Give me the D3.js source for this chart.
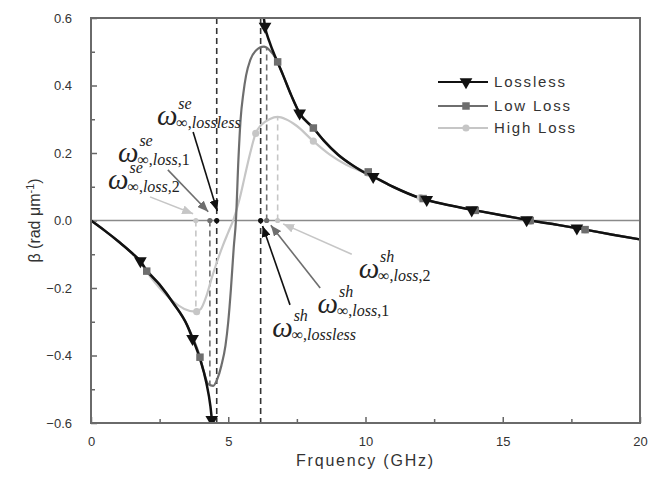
<!DOCTYPE html>
<html>
<head>
<meta charset="utf-8">
<title>Propagation constant vs frequency</title>
<script src="https://cdn.jsdelivr.net/npm/d3@7"></script>
<style>
  body { margin: 0; background: #fff; }
  svg { display: block; }
  .tick text { font-family: "Liberation Sans", Arial, sans-serif; font-size: 13px; fill: #333; }
</style>
</head>
<body>
<div id="chart"></div>
<script>
// ---- data ----
var losslessLow = [[0,0],[0.5,-0.03],[1,-0.062],[1.5,-0.097],[1.8,-0.12],[2,-0.145],[2.5,-0.19],[3,-0.245],
  [3.5,-0.31],[3.7,-0.35],[3.97,-0.41],[4.2,-0.48],[4.35,-0.55],[4.45,-0.63]];
var losslessHigh = [[6.25,0.63],[6.34,0.575],[6.5,0.53],[6.76,0.476],[7,0.43],[7.3,0.37],[7.6,0.318],[8.1,0.274],
  [8.5,0.235],[9,0.195],[9.5,0.165],[10,0.14],[10.28,0.13],[11,0.1],[12,0.066],[13,0.046],[14,0.03],[15,0.015],
  [16,0],[17,-0.013],[18,-0.027],[19,-0.042],[20,-0.056]];
var lowLoss = [[0,0],[0.5,-0.03],[1,-0.062],[1.5,-0.097],[2,-0.145],[2.5,-0.19],[3,-0.245],[3.5,-0.31],
  [3.75,-0.355],[3.97,-0.405],[4.1,-0.445],[4.27,-0.485],[4.45,-0.49],[4.6,-0.47],[4.75,-0.43],[4.9,-0.37],
  [5,-0.3],[5.1,-0.2],[5.2,-0.08],[5.28,0],[5.37,0.18],[5.45,0.3],[5.55,0.377],[5.65,0.43],[5.8,0.475],
  [6,0.503],[6.3,0.515],[6.5,0.505],[6.76,0.476],[7,0.43],[7.3,0.37],[7.6,0.318],[8.1,0.274],[8.5,0.235],
  [9,0.195],[9.5,0.165],[10,0.142],[11,0.1],[12,0.066],[13,0.046],[14,0.03],[15,0.015],[16,0],[17,-0.013],
  [18,-0.027],[19,-0.042],[20,-0.056]];
var highLoss = [[0,0],[0.5,-0.03],[1,-0.062],[1.5,-0.097],[1.8,-0.12],[2.1,-0.16],[2.5,-0.2],[3,-0.24],
  [3.4,-0.262],[3.8,-0.27],[4,-0.262],[4.2,-0.225],[4.4,-0.17],[4.6,-0.12],[4.8,-0.075],[5,-0.035],[5.2,0.005],
  [5.4,0.06],[5.6,0.13],[5.8,0.2],[6,0.258],[6.2,0.283],[6.5,0.3],[6.8,0.307],[7.1,0.3],[7.5,0.28],[8.1,0.235],
  [8.7,0.195],[9.3,0.165],[10,0.14],[10.5,0.12],[11,0.1],[12,0.066],[13,0.046],[14,0.03],[15,0.015],[16,0],
  [17,-0.013],[18,-0.027],[19,-0.042],[20,-0.056]];

var losslessMarks = [[1.8,-0.12],[3.7,-0.35],[4.4,-0.59],[6.34,0.575],[7.6,0.318],[10.28,0.13],[12.23,0.062],
  [13.87,0.031],[15.87,0.002],[17.7,-0.023]];
var lowLossMarks = [[2.03,-0.15],[3.97,-0.405],[6.8,0.47],[8.1,0.274],[10.1,0.144],[12.1,0.065],[14,0.03],
  [16,0],[18,-0.027]];
var highLossMarks = [[3.85,-0.27],[6,0.258],[8.1,0.235],[10.1,0.14],[12,0.068],[14,0.03],[16,-0.003],[18,-0.028]];

// resonance frequencies: [f, beta at the curve extreme, colour key]
var resonances = [[4.58,null,"k"],[6.18,null,"k"],[4.33,-0.49,"m"],[6.4,0.515,"m"],[3.82,-0.27,"l"],[6.8,0.307,"l"]];

// annotations: omega left/baseline, sup, sub (text + upright tail), arrow from, arrow to (data units)
var labels = [
  {at:[2.4,0.283], sup:"se", sub:"lossless", tail:"", from:[3.72,0.262], to:[4.6,0.028], c:"k"},
  {at:[0.98,0.173], sup:"se", sub:"loss", tail:",1", from:[2.8,0.15], to:[4.27,0.026], c:"m"},
  {at:[0.62,0.093], sup:"se", sub:"loss", tail:",2", from:[2.15,0.07], to:[3.72,0.02], c:"l"},
  {at:[9.75,-0.17], sup:"sh", sub:"loss", tail:",2", from:[9.5,-0.1], to:[7.0,-0.01], c:"l"},
  {at:[8.25,-0.275], sup:"sh", sub:"loss", tail:",1", from:[8.35,-0.2], to:[6.55,-0.014], c:"m"},
  {at:[6.6,-0.345], sup:"sh", sub:"lossless", tail:"", from:[7.25,-0.25], to:[6.25,-0.016], c:"k"}
];

var xTicks = [0,5,10,15,20];
var yTicks = [-0.6,-0.4,-0.2,0,0.2,0.4,0.6];
var legendNames = ["Lossless","Low Loss","High Loss"];

// ---- setup ----
var width = 659, height = 481;
var colors = {k:"#111", m:"#6e6e6e", l:"#c6c6c6"};
var pL = 91, pR = 640, pT = 18, pB = 423;
var serif = "'Liberation Serif','Times New Roman',serif";

var svg = d3.select("#chart").append("svg")
  .attr("width", width).attr("height", height);

var x = d3.scaleLinear().domain([0,20]).range([pL,pR]);
var y = d3.scaleLinear().domain([-0.6,0.6]).range([pB,pT]);

var defs = svg.append("defs");
defs.append("clipPath").attr("id","plot")
  .append("rect").attr("x",pL).attr("y",pT).attr("width",pR-pL).attr("height",pB-pT);
Object.keys(colors).forEach(function(k){
  defs.append("marker").attr("id","arr-"+k)
    .attr("markerUnits","userSpaceOnUse")
    .attr("markerWidth",12).attr("markerHeight",9)
    .attr("refX",11).attr("refY",4.5).attr("orient","auto")
    .append("path").attr("d","M0,0 L11,4.5 L0,9 Z").attr("fill",colors[k]);
});

// axes
var fmt = d3.format(".1f");
svg.append("g").attr("transform","translate("+pL+",0)")
  .call(d3.axisLeft(y).tickValues(yTicks).tickSize(-6).tickPadding(19).tickFormat(fmt));
svg.append("g").attr("transform","translate("+pL+",0)")
  .call(d3.axisLeft(y).tickValues(d3.range(-0.5,0.6,0.2)).tickSize(-4).tickFormat(""));
svg.append("g").attr("transform","translate(0,"+pB+")")
  .call(d3.axisBottom(x).tickValues(xTicks).tickSize(-6).tickPadding(14).tickFormat(d3.format("d")));
svg.append("g").attr("transform","translate(0,"+pB+")")
  .call(d3.axisBottom(x).tickValues([2.5,7.5,12.5,17.5]).tickSize(-4).tickFormat(""));
svg.selectAll(".domain").remove();
svg.selectAll(".tick line").attr("stroke","#666").attr("stroke-width",1.5);

// zero line
svg.append("line").attr("x1",pL).attr("x2",pR).attr("y1",y(0)).attr("y2",y(0))
  .attr("stroke","#8a8a8a").attr("stroke-width",1.5);

// dashed resonance lines
var plot = svg.append("g").attr("clip-path","url(#plot)");
resonances.forEach(function(r){
  var y1 = r[1] === null ? pT : y(0);
  var y2 = r[1] === null ? pB : y(r[1]);
  plot.append("line").attr("x1",x(r[0])).attr("x2",x(r[0])).attr("y1",y1).attr("y2",y2)
    .attr("stroke", r[2]==="k" ? "#333" : colors[r[2]])
    .attr("stroke-width",1.6).attr("stroke-dasharray","6,4");
});

// curves
var line = d3.line().x(function(d){return x(d[0]);}).y(function(d){return y(d[1]);}).curve(d3.curveMonotoneX);
plot.append("path").datum(highLoss).attr("d",line).attr("fill","none").attr("stroke",colors.l).attr("stroke-width",2.2);
plot.append("path").datum(lowLoss).attr("d",line).attr("fill","none").attr("stroke",colors.m).attr("stroke-width",2.2);
[losslessLow, losslessHigh].forEach(function(s){
  plot.append("path").datum(s).attr("d",line).attr("fill","none").attr("stroke",colors.k).attr("stroke-width",2.5);
});

// markers
var tri = d3.symbol().type(d3.symbolTriangle).size(70);
var sq = d3.symbol().type(d3.symbolSquare).size(56);
var circ = d3.symbol().type(d3.symbolCircle).size(40);
plot.selectAll(".hm").data(highLossMarks).enter().append("path")
  .attr("d",circ).attr("fill",colors.l)
  .attr("transform",function(d){return "translate("+x(d[0])+","+y(d[1])+")";});
plot.selectAll(".lm").data(lowLossMarks).enter().append("path")
  .attr("d",sq).attr("fill",colors.m)
  .attr("transform",function(d){return "translate("+x(d[0])+","+y(d[1])+")";});
plot.selectAll(".km").data(losslessMarks).enter().append("path")
  .attr("d",tri).attr("fill",colors.k)
  .attr("transform",function(d){return "translate("+x(d[0])+","+y(d[1])+") rotate(180)";});

// dots at zero crossings
resonances.forEach(function(r){
  svg.append("circle").attr("cx",x(r[0])).attr("cy",y(0)).attr("r",2.6)
    .attr("fill", r[2]==="k" ? "#111" : colors[r[2]]);
});

// frame
svg.append("rect").attr("x",pL).attr("y",pT).attr("width",pR-pL).attr("height",pB-pT)
  .attr("fill","none").attr("stroke","#6a6a6a").attr("stroke-width",2);

// annotations
labels.forEach(function(a){
  svg.append("line").attr("x1",x(a.from[0])).attr("y1",y(a.from[1]))
    .attr("x2",x(a.to[0])).attr("y2",y(a.to[1]))
    .attr("stroke",colors[a.c]).attr("stroke-width",1.6).attr("marker-end","url(#arr-"+a.c+")");
  var bx = x(a.at[0]), by = y(a.at[1]);
  var w = svg.append("text").attr("x",bx).attr("y",by)
    .attr("font-family",serif).attr("font-style","italic")
    .attr("font-size",29).attr("fill","#222").text("\u03C9");
  var ww = w.node().getComputedTextLength();
  svg.append("text").attr("x",bx+ww+1).attr("y",by-16)
    .attr("font-family",serif).attr("font-style","italic")
    .attr("font-size",16).attr("fill","#222").text(a.sup);
  var sub = svg.append("text").attr("x",bx+ww-1).attr("y",by+3)
    .attr("font-family",serif).attr("font-size",16).attr("fill","#222");
  sub.append("tspan").text("\u221E,");
  sub.append("tspan").attr("font-style","italic").text(a.sub);
  sub.append("tspan").text(a.tail);
});

// legend
var legY = [82,106,128];
var legSym = [tri, sq, circ];
var legCol = [colors.k, colors.m, colors.l];
legendNames.forEach(function(n,i){
  var g = svg.append("g").attr("transform","translate(438,"+legY[i]+")");
  g.append("line").attr("x1",0).attr("x2",50).attr("stroke",legCol[i]).attr("stroke-width",2.2);
  g.append("path").attr("d",legSym[i]).attr("fill",legCol[i])
    .attr("transform","translate(28,0)"+(i===0?" rotate(180)":""));
  g.append("text").attr("x",56).attr("dy","0.36em")
    .attr("font-family","'Liberation Sans',Arial,sans-serif").attr("font-size",15)
    .attr("letter-spacing","1.8px").attr("fill","#333").text(n);
});

// axis titles
svg.append("text").attr("x",(pL+pR)/2).attr("y",466).attr("text-anchor","middle")
  .attr("font-family","'Liberation Sans',Arial,sans-serif").attr("font-size",16)
  .attr("letter-spacing","1.8px").attr("fill","#333").text("Frquency (GHz)");
var yt = svg.append("text").attr("transform","translate(40,"+((pT+pB)/2)+") rotate(-90)")
  .attr("text-anchor","middle")
  .attr("font-family","'Liberation Sans',Arial,sans-serif").attr("font-size",16).attr("fill","#333");
yt.append("tspan").text("\u03B2 (rad \u03BCm");
yt.append("tspan").attr("font-size",11).attr("dy",-6).text("-1");
yt.append("tspan").attr("dy",6).text(")");
</script>
</body>
</html>
